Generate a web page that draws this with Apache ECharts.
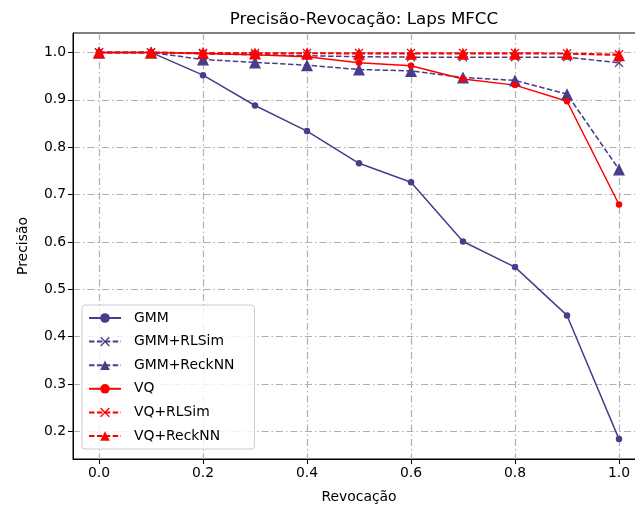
<!DOCTYPE html>
<html>
<head>
<meta charset="utf-8">
<script src="https://cdn.jsdelivr.net/npm/echarts@6/dist/echarts.min.js"></script>
<style>
  html, body { margin: 0; padding: 0; background: #fff; overflow: hidden; }
  /* drawn wider than the window: the plot runs past the right edge as in the reference */
  #chart { width: 680px; height: 508px; }
</style>
</head>
<body>
<div id="chart"></div>
<script>
// revocação (x) values
var recall = [0.0, 0.1, 0.2, 0.3, 0.4, 0.5, 0.6, 0.7, 0.8, 0.9, 1.0];
// precisão per method
var gmm = [1.0, 1.0, 0.952, 0.888, 0.834, 0.766, 0.726, 0.601, 0.547, 0.445, 0.184];
var gmmRlsim = [1.0, 1.0, 0.997, 0.995, 0.993, 0.991, 0.990, 0.990, 0.990, 0.990, 0.978];
var gmmReck = [1.0, 1.0, 0.985, 0.979, 0.973, 0.964, 0.961, 0.947, 0.941, 0.912, 0.753];
var vq = [1.0, 1.0, 0.998, 0.995, 0.991, 0.978, 0.972, 0.944, 0.931, 0.897, 0.679];
var vqRlsim = [1.0, 1.0, 0.999, 0.999, 0.999, 0.999, 0.999, 0.999, 0.999, 0.998, 0.996];
var vqReck = [1.0, 1.0, 0.999, 0.998, 0.998, 0.997, 0.997, 0.997, 0.997, 0.997, 0.994];
var xTicks = [0.0, 0.2, 0.4, 0.6, 0.8, 1.0];
var yTicks = [0.2, 0.3, 0.4, 0.5, 0.6, 0.7, 0.8, 0.9, 1.0];

var BLUE = '#483d8b';
var RED = '#ff0000';
var xMark = 'path://M0,1L1,0L5,4L9,0L10,1L6,5L10,9L9,10L5,6L1,10L0,9L4,5Z';
var font = 'DejaVu Sans';

function pairs(ys) {
    return ys.map(function (y, i) { return [recall[i], y]; });
}

function mkSeries(name, ys, color, dashed, symbol, size) {
    return {
        name: name,
        type: 'line',
        data: pairs(ys),
        symbol: symbol,
        symbolSize: size,
        showAllSymbol: true,
        animation: false,
        lineStyle: { color: color, width: 1.5, type: dashed ? [5.5, 2.4] : 'solid' },
        itemStyle: { color: color, borderWidth: 0 }
    };
}

var chart = echarts.init(document.getElementById('chart'), null, { renderer: 'canvas' });

var axisCommon = {
    axisLine: { onZero: false, lineStyle: { color: '#000', width: 1 } },
    axisTick: { show: true, length: 5, lineStyle: { color: '#000', width: 1 } },
    axisLabel: { color: '#000', fontFamily: font, fontSize: 13.9, margin: 7 },
    splitLine: { show: true, lineStyle: { color: '#b0b0b0', width: 1.2, type: [7, 3, 1.5, 3] } },
    nameTextStyle: { color: '#000', fontFamily: font, fontSize: 13.9 }
};

var option = {
    backgroundColor: '#fff',
    animation: false,
    title: {
        text: 'Precisão-Revocação: Laps MFCC',
        left: 359,
        textAlign: 'center',
        top: 6,
        textStyle: { color: '#000', fontFamily: font, fontSize: 16.7, fontWeight: 'normal' }
    },
    grid: {
        left: 73, top: 33, width: 572, bottom: 49,
        outerBoundsMode: 'none', containLabel: false,
        show: true, borderColor: '#000', borderWidth: 1
    },
    xAxis: Object.assign({}, axisCommon, {
        type: 'value',
        min: -0.05,
        max: 1.05,
        name: 'Revocação',
        nameLocation: 'middle',
        nameGap: 31,
        axisTick: Object.assign({}, axisCommon.axisTick, { customValues: xTicks }),
        axisLabel: Object.assign({}, axisCommon.axisLabel, {
            customValues: xTicks,
            formatter: function (v) { return v.toFixed(1); }
        })
    }),
    yAxis: Object.assign({}, axisCommon, {
        type: 'value',
        min: 0.142,
        max: 1.041,
        name: 'Precisão',
        nameLocation: 'middle',
        nameGap: 43,
        axisTick: Object.assign({}, axisCommon.axisTick, { customValues: yTicks }),
        axisLabel: Object.assign({}, axisCommon.axisLabel, {
            customValues: yTicks,
            formatter: function (v) { return v.toFixed(1); }
        })
    }),
    legend: {
        orient: 'vertical',
        left: 82,
        top: 305,
        padding: [6, 20, 6, 6],
        itemWidth: 32,
        itemHeight: 12,
        itemGap: 9.6,
        backgroundColor: 'rgba(255,255,255,0.8)',
        borderColor: '#cccccc',
        borderWidth: 1,
        borderRadius: 3,
        textStyle: { color: '#000', fontFamily: font, fontSize: 13.9, padding: [0, 0, 0, 8] },
        data: ['GMM', 'GMM+RLSim', 'GMM+ReckNN', 'VQ', 'VQ+RLSim', 'VQ+ReckNN']
    },
    series: [
        mkSeries('GMM', gmm, BLUE, false, 'circle', 6.5),
        mkSeries('GMM+RLSim', gmmRlsim, BLUE, true, xMark, 9),
        mkSeries('GMM+ReckNN', gmmReck, BLUE, true, 'triangle', 12),
        mkSeries('VQ', vq, RED, false, 'circle', 6.5),
        mkSeries('VQ+RLSim', vqRlsim, RED, true, xMark, 9),
        mkSeries('VQ+ReckNN', vqReck, RED, true, 'triangle', 12)
    ]
};

chart.setOption(option);
</script>
</body>
</html>
